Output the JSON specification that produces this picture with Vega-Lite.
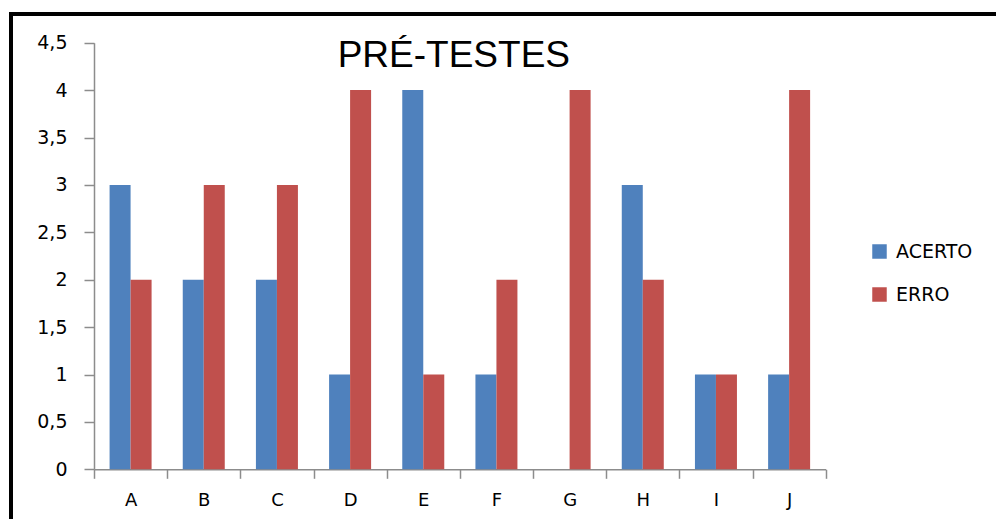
{
  "$schema": "https://vega.github.io/schema/vega-lite/v6.json",
  "autosize": "none",
  "padding": {"left": 11, "top": 14, "right": 0, "bottom": 0},
  "width": 990,
  "height": 511,
  "background": "white",
  "layer": [
    {
      "data": {
        "values": [
          {"cat": "A", "serie": "ACERTO", "valor": 3},
          {"cat": "A", "serie": "ERRO", "valor": 2},
          {"cat": "B", "serie": "ACERTO", "valor": 2},
          {"cat": "B", "serie": "ERRO", "valor": 3},
          {"cat": "C", "serie": "ACERTO", "valor": 2},
          {"cat": "C", "serie": "ERRO", "valor": 3},
          {"cat": "D", "serie": "ACERTO", "valor": 1},
          {"cat": "D", "serie": "ERRO", "valor": 4},
          {"cat": "E", "serie": "ACERTO", "valor": 4},
          {"cat": "E", "serie": "ERRO", "valor": 1},
          {"cat": "F", "serie": "ACERTO", "valor": 1},
          {"cat": "F", "serie": "ERRO", "valor": 2},
          {"cat": "G", "serie": "ACERTO", "valor": 0},
          {"cat": "G", "serie": "ERRO", "valor": 4},
          {"cat": "H", "serie": "ACERTO", "valor": 3},
          {"cat": "H", "serie": "ERRO", "valor": 2},
          {"cat": "I", "serie": "ACERTO", "valor": 1},
          {"cat": "I", "serie": "ERRO", "valor": 1},
          {"cat": "J", "serie": "ACERTO", "valor": 1},
          {"cat": "J", "serie": "ERRO", "valor": 4}
        ]
      },
      "mark": {"type": "bar", "clip": false},
      "encoding": {
        "x": {
          "field": "cat",
          "type": "nominal",
          "scale": {"range": [83, 814.7], "paddingInner": 0, "paddingOuter": 0},
          "axis": {
            "title": null,
            "labelAngle": 0,
            "offset": -55.7,
            "tickBand": "extent",
            "domainColor": "#8c8c8c",
            "domainWidth": 1.5,
            "tickColor": "#8c8c8c",
            "tickWidth": 1.5,
            "tickSize": 9,
            "labelPadding": 13,
            "labelFont": "DejaVu Sans",
            "labelFontSize": 18,
            "labelColor": "#000000",
            "grid": false
          }
        },
        "xOffset": {
          "field": "serie",
          "type": "nominal",
          "scale": {"paddingInner": 0, "paddingOuter": 0.742}
        },
        "y": {
          "field": "valor",
          "type": "quantitative",
          "scale": {"domain": [0, 4.5], "range": [455.3, 28.7], "nice": false, "zero": true},
          "axis": {
            "title": null,
            "offset": -83,
            "values": [0, 0.5, 1, 1.5, 2, 2.5, 3, 3.5, 4, 4.5],
            "labelExpr": "replace(toString(datum.value), '.', ',')",
            "domainColor": "#8c8c8c",
            "domainWidth": 1.5,
            "tickColor": "#8c8c8c",
            "tickWidth": 1.5,
            "tickSize": 10,
            "labelPadding": 17,
            "labelFont": "DejaVu Sans",
            "labelFontSize": 19,
            "labelColor": "#000000",
            "grid": false
          }
        },
        "color": {
          "field": "serie",
          "type": "nominal",
          "scale": {"domain": ["ACERTO", "ERRO"], "range": ["#4F81BD", "#C0504D"]},
          "legend": {
            "title": null,
            "orient": "none",
            "legendX": 859,
            "legendY": 228,
            "symbolType": "square",
            "symbolSize": 210,
            "symbolStrokeWidth": 0,
            "labelFont": "DejaVu Sans",
            "labelFontSize": 19,
            "labelColor": "#000000",
            "labelOffset": 7,
            "rowPadding": 23
          }
        }
      }
    },
    {
      "data": {"values": [{"titulo": "PRÉ-TESTES"}]},
      "mark": {
        "type": "text",
        "font": "Liberation Sans",
        "fontSize": 37,
        "fontWeight": "normal",
        "fill": "#000000",
        "align": "center",
        "baseline": "alphabetic",
        "dx": -6
      },
      "encoding": {
        "text": {"field": "titulo", "type": "nominal"},
        "x": {"datum": "F", "type": "nominal", "bandPosition": 0},
        "y": {"datum": 4.245, "type": "quantitative"}
      }
    }
  ],
  "config": {
    "view": {"stroke": "#000000", "strokeWidth": 4}
  }
}
